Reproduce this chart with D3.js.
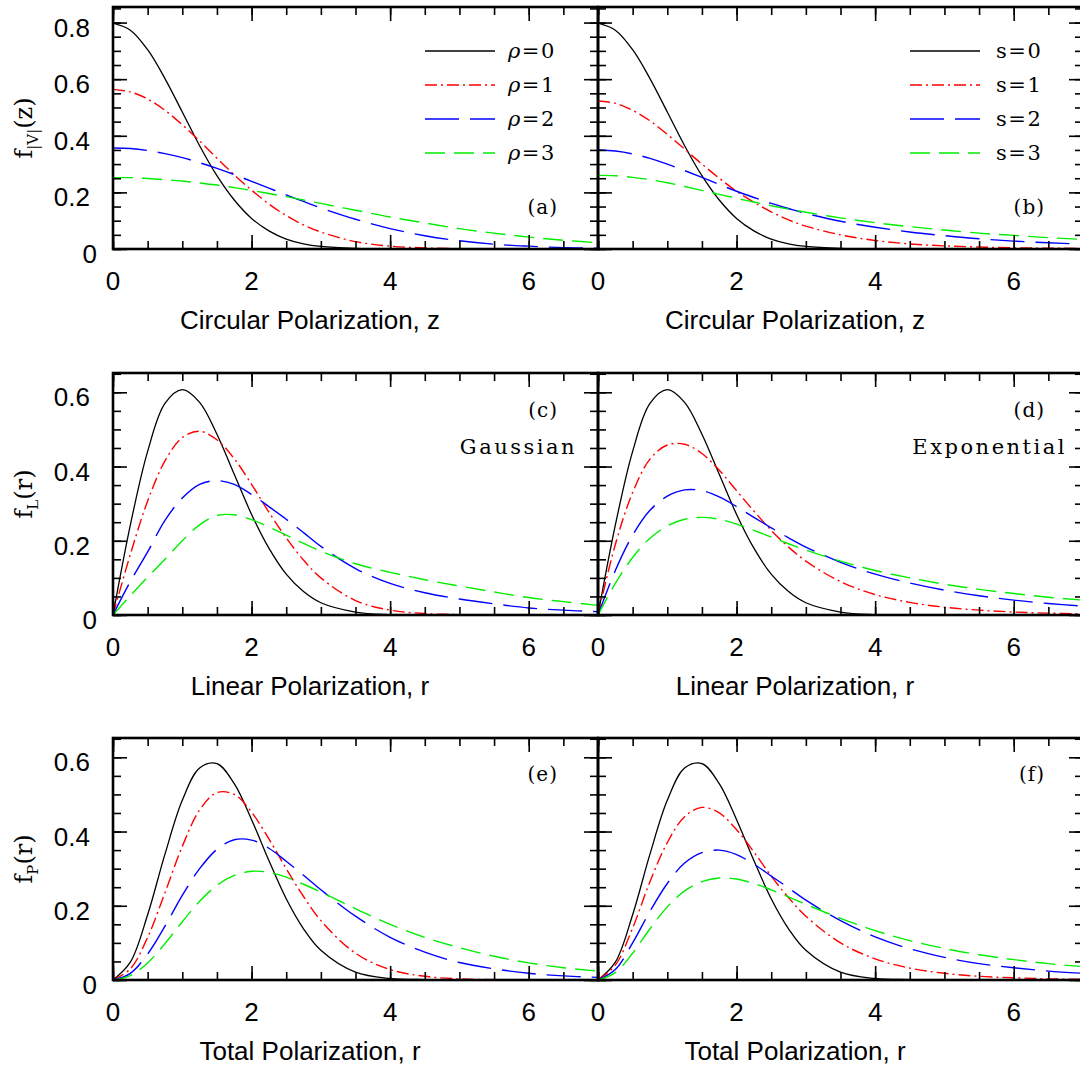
<!DOCTYPE html>
<html>
<head>
<meta charset="utf-8">
<script src="https://cdn.jsdelivr.net/npm/d3@7"></script>
<style>
  body { margin: 0; background: #fff; }
  .sans { font-family: "Liberation Sans", Arial, sans-serif; font-size: 26px; }
  .serif { font-family: "DejaVu Serif", serif; }
</style>
</head>
<body>
<svg id="chart"></svg>
<script>
// Sample positions along the x axis (polarization)
const xs = [0, 0.25, 0.5, 0.75, 1, 1.25, 1.5, 1.75, 2, 2.25, 2.5, 2.75, 3, 3.5, 4, 4.5, 5, 5.5, 6, 6.5, 7];

// (a) circular polarization, Gaussian model, rho = 0..3
const circGauss0 = [0.798, 0.773, 0.704, 0.602, 0.484, 0.365, 0.259, 0.173, 0.108, 0.064, 0.035, 0.018, 0.009, 0.002, 0, 0, 0, 0, 0, 0, 0];
const circGauss1 = [0.564, 0.555, 0.530, 0.490, 0.439, 0.382, 0.321, 0.262, 0.208, 0.159, 0.118, 0.085, 0.060, 0.026, 0.010, 0.004, 0.001, 0, 0, 0, 0];
const circGauss2 = [0.357, 0.355, 0.348, 0.337, 0.323, 0.305, 0.285, 0.263, 0.239, 0.215, 0.191, 0.168, 0.145, 0.105, 0.072, 0.047, 0.029, 0.017, 0.010, 0.005, 0.003];
const circGauss3 = [0.252, 0.252, 0.249, 0.245, 0.240, 0.233, 0.226, 0.217, 0.207, 0.196, 0.185, 0.173, 0.161, 0.137, 0.113, 0.092, 0.072, 0.056, 0.042, 0.031, 0.022];

// (b) circular polarization, exponential model, s = 0..3
const circExp0 = [0.798, 0.773, 0.704, 0.602, 0.484, 0.365, 0.259, 0.173, 0.108, 0.064, 0.035, 0.018, 0.009, 0.002, 0, 0, 0, 0, 0, 0, 0];
const circExp1 = [0.523, 0.515, 0.490, 0.453, 0.405, 0.353, 0.300, 0.250, 0.204, 0.165, 0.131, 0.103, 0.081, 0.050, 0.030, 0.018, 0.011, 0.007, 0.004, 0.003, 0.002];
const circExp2 = [0.350, 0.346, 0.336, 0.320, 0.300, 0.277, 0.253, 0.228, 0.204, 0.182, 0.161, 0.143, 0.126, 0.098, 0.077, 0.060, 0.047, 0.036, 0.028, 0.022, 0.017];
const circExp3 = [0.260, 0.259, 0.253, 0.245, 0.234, 0.221, 0.207, 0.193, 0.179, 0.166, 0.153, 0.141, 0.130, 0.110, 0.093, 0.079, 0.067, 0.056, 0.048, 0.040, 0.034];

// (c) linear polarization, Gaussian
const linGauss0 = [0, 0.242, 0.441, 0.570, 0.607, 0.573, 0.487, 0.379, 0.271, 0.180, 0.110, 0.063, 0.033, 0.008, 0.001, 0, 0, 0, 0, 0, 0];
const linGauss1 = [0, 0.163, 0.307, 0.415, 0.478, 0.495, 0.472, 0.421, 0.352, 0.277, 0.208, 0.148, 0.100, 0.039, 0.013, 0.004, 0.001, 0, 0, 0, 0];
const linGauss2 = [0, 0.090, 0.170, 0.255, 0.315, 0.352, 0.362, 0.352, 0.325, 0.292, 0.258, 0.222, 0.185, 0.125, 0.085, 0.060, 0.043, 0.030, 0.019, 0.013, 0.009];
const linGauss3 = [0, 0.052, 0.102, 0.150, 0.200, 0.243, 0.268, 0.270, 0.257, 0.237, 0.215, 0.193, 0.172, 0.138, 0.115, 0.095, 0.078, 0.062, 0.047, 0.036, 0.026];

// (d) linear polarization, exponential
const linExp0 = [0, 0.242, 0.441, 0.570, 0.607, 0.573, 0.487, 0.379, 0.271, 0.180, 0.110, 0.063, 0.033, 0.008, 0.001, 0, 0, 0, 0, 0, 0];
const linExp1 = [0, 0.190, 0.330, 0.420, 0.458, 0.460, 0.435, 0.390, 0.335, 0.280, 0.228, 0.183, 0.145, 0.090, 0.055, 0.034, 0.021, 0.013, 0.008, 0.005, 0.003];
const linExp2 = [0, 0.120, 0.215, 0.282, 0.320, 0.337, 0.335, 0.318, 0.292, 0.263, 0.235, 0.208, 0.183, 0.142, 0.110, 0.086, 0.067, 0.052, 0.040, 0.031, 0.024];
const linExp3 = [0, 0.085, 0.155, 0.207, 0.240, 0.258, 0.263, 0.258, 0.245, 0.228, 0.210, 0.192, 0.175, 0.145, 0.120, 0.100, 0.083, 0.069, 0.058, 0.048, 0.040];

// (e) total polarization, Gaussian
const totGauss0 = [0, 0.048, 0.176, 0.339, 0.484, 0.571, 0.583, 0.529, 0.432, 0.322, 0.219, 0.138, 0.080, 0.021, 0.004, 0.001, 0, 0, 0, 0, 0];
const totGauss1 = [0, 0.030, 0.115, 0.235, 0.360, 0.458, 0.505, 0.500, 0.452, 0.380, 0.300, 0.225, 0.160, 0.072, 0.028, 0.010, 0.003, 0.001, 0, 0, 0];
const totGauss2 = [0, 0.018, 0.070, 0.145, 0.228, 0.300, 0.352, 0.378, 0.377, 0.355, 0.320, 0.282, 0.243, 0.172, 0.115, 0.075, 0.047, 0.030, 0.018, 0.011, 0.007];
const totGauss3 = [0, 0.012, 0.046, 0.098, 0.157, 0.212, 0.255, 0.282, 0.293, 0.290, 0.277, 0.258, 0.237, 0.192, 0.150, 0.115, 0.087, 0.064, 0.046, 0.033, 0.024];

// (f) total polarization, exponential
const totExp0 = [0, 0.048, 0.176, 0.339, 0.484, 0.571, 0.583, 0.529, 0.432, 0.322, 0.219, 0.138, 0.080, 0.021, 0.004, 0.001, 0, 0, 0, 0, 0];
const totExp1 = [0, 0.040, 0.140, 0.265, 0.370, 0.440, 0.465, 0.450, 0.405, 0.345, 0.280, 0.222, 0.172, 0.100, 0.057, 0.032, 0.018, 0.010, 0.006, 0.003, 0.002];
const totExp2 = [0, 0.028, 0.100, 0.185, 0.260, 0.315, 0.343, 0.350, 0.338, 0.312, 0.280, 0.248, 0.215, 0.160, 0.116, 0.084, 0.061, 0.044, 0.033, 0.024, 0.018];
const totExp3 = [0, 0.020, 0.072, 0.138, 0.197, 0.240, 0.265, 0.275, 0.272, 0.260, 0.243, 0.224, 0.204, 0.166, 0.133, 0.106, 0.085, 0.068, 0.055, 0.044, 0.036];

// labels and ticks
const rhoLabels = ["0", "1", "2", "3"];
const sLabels = ["0", "1", "2", "3"];
const xMajorTicks = [0, 2, 4, 6];
const yMajorTop = [0, 0.2, 0.4, 0.6, 0.8];
const yMajorLow = [0, 0.2, 0.4, 0.6];

// layout
const W = 1080, H = 1068;
const colX = [113, 598];
const rowY = [7, 373, 738];
const pw = 485, ph = 242;

const styles = [
  { color: "#000000", dash: null, width: 1.3 },
  { color: "#ff0000", dash: "12,4,2,4", width: 1.4 },
  { color: "#0000ff", dash: "34,11", width: 1.4 },
  { color: "#00ee00", dash: "20,9", width: 1.4 }
];

const panels = [
  { col: 0, row: 0, series: [circGauss0, circGauss1, circGauss2, circGauss3], ymax: 0.855, yMajor: yMajorTop,
    tag: "(a)", tagY: 207, legend: rhoLabels, legendSym: "\u03C1", title: "Circular Polarization, z", ylab: ["f", "|V|", "(z)"] },
  { col: 1, row: 0, series: [circExp0, circExp1, circExp2, circExp3], ymax: 0.855, yMajor: yMajorTop,
    tag: "(b)", tagY: 207, legend: sLabels, legendSym: "s", title: "Circular Polarization, z" },
  { col: 0, row: 1, series: [linGauss0, linGauss1, linGauss2, linGauss3], ymax: 0.652, yMajor: yMajorLow,
    tag: "(c)", tagY: 44, note: "Gaussian", title: "Linear Polarization, r", ylab: ["f", "L", "(r)"] },
  { col: 1, row: 1, series: [linExp0, linExp1, linExp2, linExp3], ymax: 0.652, yMajor: yMajorLow,
    tag: "(d)", tagY: 44, note: "Exponential", title: "Linear Polarization, r" },
  { col: 0, row: 2, series: [totGauss0, totGauss1, totGauss2, totGauss3], ymax: 0.652, yMajor: yMajorLow,
    tag: "(e)", tagY: 43, title: "Total Polarization, r", ylab: ["f", "P", "(r)"] },
  { col: 1, row: 2, series: [totExp0, totExp1, totExp2, totExp3], ymax: 0.652, yMajor: yMajorLow,
    tag: "(f)", tagY: 43, title: "Total Polarization, r" }
];

const svg = d3.select("#chart").attr("width", W).attr("height", H);

const x = d3.scaleLinear().domain([0, 7]).range([0, pw]);
const minorX = d3.range(0, 7.01, 0.5);

panels.forEach((p, pi) => {
  const g = svg.append("g")
    .attr("transform", `translate(${colX[p.col]},${rowY[p.row]})`);
  const y = d3.scaleLinear().domain([0, p.ymax]).range([ph, 0]);
  const minorY = d3.range(0, p.ymax, 0.05);

  // clip for curves
  g.append("clipPath").attr("id", "clip" + pi)
    .append("rect").attr("width", pw).attr("height", ph);

  // curves
  const line = d3.line()
    .x((d, i) => x(xs[i]))
    .y(d => y(d))
    .curve(d3.curveCatmullRom.alpha(0.5));

  p.series.forEach((s, i) => {
    g.append("path")
      .datum(s)
      .attr("clip-path", `url(#clip${pi})`)
      .attr("fill", "none")
      .attr("stroke", styles[i].color)
      .attr("stroke-width", styles[i].width)
      .attr("stroke-dasharray", styles[i].dash)
      .attr("d", line);
  });

  // inward ticks on all four sides
  const tickAxis = (axis, tx, ty) => {
    const a = g.append("g").attr("transform", `translate(${tx},${ty})`).call(axis);
    a.select(".domain").remove();
    a.selectAll("line").attr("stroke", "#000").attr("stroke-width", 1.6);
  };
  tickAxis(d3.axisBottom(x).tickValues(minorX).tickSize(-8).tickFormat(""), 0, ph);
  tickAxis(d3.axisBottom(x).tickValues(xMajorTicks).tickSize(-14).tickFormat(""), 0, ph);
  tickAxis(d3.axisTop(x).tickValues(minorX).tickSize(-8).tickFormat(""), 0, 0);
  tickAxis(d3.axisTop(x).tickValues(xMajorTicks).tickSize(-14).tickFormat(""), 0, 0);
  tickAxis(d3.axisLeft(y).tickValues(minorY).tickSize(-8).tickFormat(""), 0, 0);
  tickAxis(d3.axisLeft(y).tickValues(p.yMajor).tickSize(-14).tickFormat(""), 0, 0);
  tickAxis(d3.axisRight(y).tickValues(minorY).tickSize(-8).tickFormat(""), pw, 0);
  tickAxis(d3.axisRight(y).tickValues(p.yMajor).tickSize(-14).tickFormat(""), pw, 0);

  // frame
  g.append("rect")
    .attr("width", pw).attr("height", ph)
    .attr("fill", "none").attr("stroke", "#000").attr("stroke-width", 2.6);

  // x tick labels
  g.selectAll(".xlab").data(xMajorTicks).join("text")
    .attr("class", "sans")
    .attr("x", d => x(d))
    .attr("y", ph + 41)
    .attr("text-anchor", "middle")
    .text(d => d);

  // x title
  g.append("text").attr("class", "sans")
    .attr("x", 197).attr("y", ph + 80)
    .attr("text-anchor", "middle")
    .text(p.title);

  if (p.col === 0) {
    // y tick labels
    g.selectAll(".ylab").data(p.yMajor).join("text")
      .attr("class", "sans")
      .attr("x", d => d === 0 ? -16 : -23)
      .attr("y", d => y(d) + 14)
      .attr("text-anchor", "end")
      .text(d => d === 0 ? "0" : d3.format(".1f")(d));

    // y title, rotated
    const t = g.append("text").attr("class", "serif")
      .attr("transform", `translate(-81,${ph / 2}) rotate(-90)`)
      .attr("text-anchor", "middle")
      .style("font-size", "24px");
    t.append("tspan").text(p.ylab[0]);
    t.append("tspan").attr("dy", 6).style("font-size", "15px").text(p.ylab[1]);
    t.append("tspan").attr("dy", -6).text(p.ylab[2]);
  }

  // panel tag
  g.append("text").attr("class", "serif")
    .attr("x", p.col === 0 ? 445 : 447).attr("y", p.tagY)
    .attr("text-anchor", "end")
    .style("font-size", "20px").style("letter-spacing", "1px")
    .text(p.tag);

  if (p.note) {
    g.append("text").attr("class", "serif")
      .attr("x", p.col === 0 ? 464 : 469).attr("y", 81)
      .attr("text-anchor", "end")
      .style("font-size", "21px").style("letter-spacing", "2.5px")
      .text(p.note);
  }

  if (p.legend) {
    const lg = g.selectAll(".leg").data(p.legend).join("g")
      .attr("transform", (d, i) => `translate(0,${44 + i * 34})`);
    lg.append("line")
      .attr("x1", 312).attr("x2", 382)
      .attr("stroke", (d, i) => styles[i].color)
      .attr("stroke-width", (d, i) => styles[i].width)
      .attr("stroke-dasharray", (d, i) => styles[i].dash);
    const lt = lg.append("text").attr("class", "serif")
      .attr("x", p.col === 0 ? 395 : 398).attr("y", 7)
      .style("font-size", "21px").style("letter-spacing", "1.5px");
    lt.append("tspan")
      .style("font-style", p.legendSym === "s" ? "normal" : "italic")
      .text(p.legendSym);
    lt.append("tspan").text(d => "=" + d);
  }
});
</script>
</body>
</html>
